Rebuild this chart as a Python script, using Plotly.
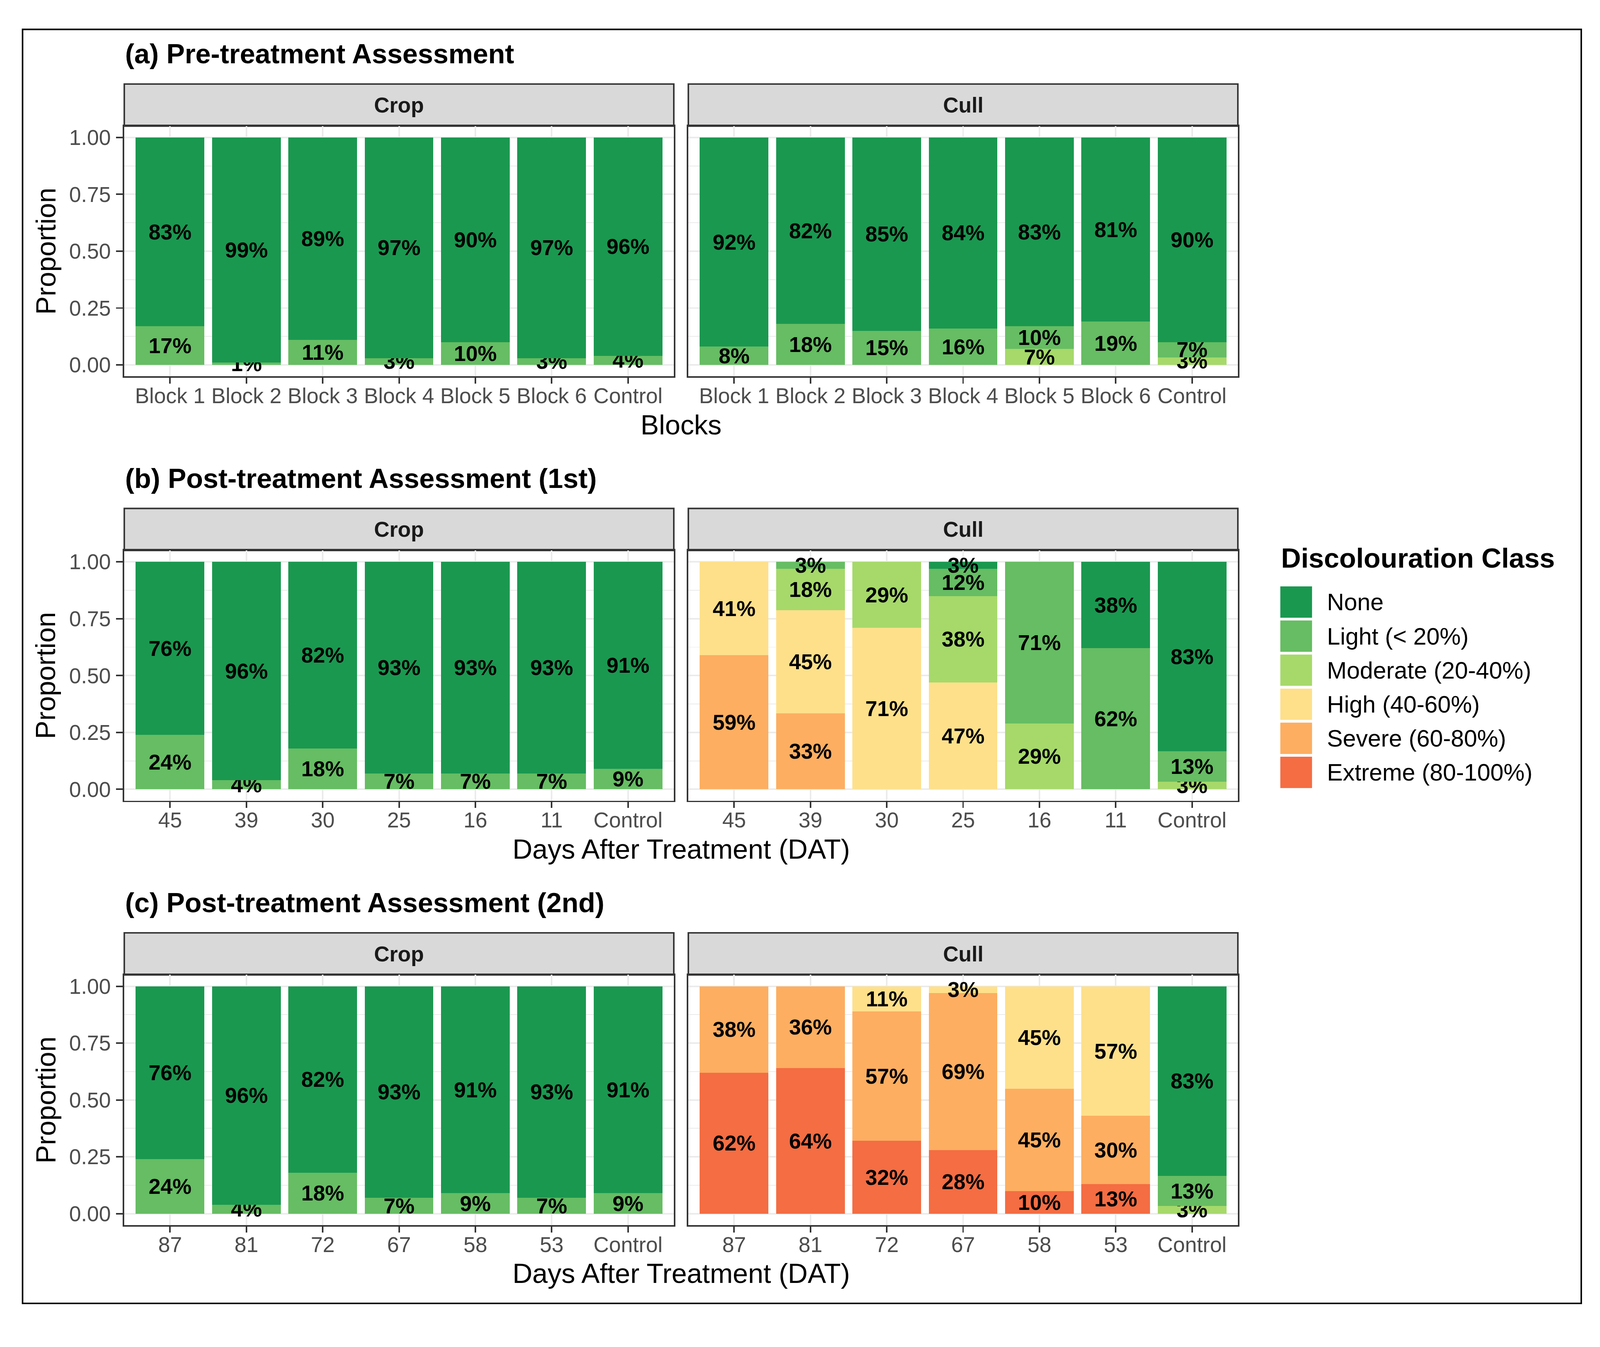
import plotly.graph_objects as go

W, H = 4184, 3448
FONT = "Liberation Sans, Arial, Helvetica, sans-serif"

# ---------------- data ----------------
classes = ["None", "Light (< 20%)", "Moderate (20-40%)", "High (40-60%)",
           "Severe (60-80%)", "Extreme (80-100%)"]
class_colors = ["#1A9850", "#66BD63", "#A6D96A", "#FEE08B", "#FDAE61", "#F46D43"]

blocks = ["Block 1", "Block 2", "Block 3", "Block 4", "Block 5", "Block 6", "Control"]
dat_first = ["45", "39", "30", "25", "16", "11", "Control"]
dat_second = ["87", "81", "72", "67", "58", "53", "Control"]
zeros = [0, 0, 0, 0, 0, 0, 0]

# (a) Pre-treatment, percentages
pre_crop_none = [83, 99, 89, 97, 90, 97, 96]
pre_crop_light = [17, 1, 11, 3, 10, 3, 4]
pre_cull_none = [92, 82, 85, 84, 83, 81, 90]
pre_cull_light = [8, 18, 15, 16, 10, 19, 6.67]
pre_cull_moderate = [0, 0, 0, 0, 7, 0, 3.33]

# (b) Post-treatment 1st
post1_crop_none = [76, 96, 82, 93, 93, 93, 91]
post1_crop_light = [24, 4, 18, 7, 7, 7, 9]
post1_cull_none = [0, 0, 0, 3, 0, 38, 83.33]
post1_cull_light = [0, 3.03, 0, 12, 71, 62, 13.33]
post1_cull_moderate = [0, 18.18, 29, 38, 29, 0, 3.33]
post1_cull_high = [41, 45.45, 71, 47, 0, 0, 0]
post1_cull_severe = [59, 33.33, 0, 0, 0, 0, 0]

# (c) Post-treatment 2nd
post2_crop_none = [76, 96, 82, 93, 91, 93, 91]
post2_crop_light = [24, 4, 18, 7, 9, 7, 9]
post2_cull_none = [0, 0, 0, 0, 0, 0, 83.33]
post2_cull_light = [0, 0, 0, 0, 0, 0, 13.33]
post2_cull_moderate = [0, 0, 0, 0, 0, 0, 3.33]
post2_cull_high = [0, 0, 11, 3, 45, 57, 0]
post2_cull_severe = [38, 36, 57, 69, 45, 30, 0]
post2_cull_extreme = [62, 64, 32, 28, 10, 13, 0]

panel_titles = ["(a) Pre-treatment Assessment", "(b) Post-treatment Assessment (1st)",
                "(c) Post-treatment Assessment (2nd)"]
x_titles = ["Blocks", "Days After Treatment (DAT)", "Days After Treatment (DAT)"]
facet_names = ["Crop", "Cull"]
y_ticks = [0, 0.25, 0.5, 0.75, 1.0]
y_minor = [0.125, 0.375, 0.625, 0.875]

panels = [
    dict(cats=blocks, facets=[
        [pre_crop_none, pre_crop_light, zeros, zeros, zeros, zeros],
        [pre_cull_none, pre_cull_light, pre_cull_moderate, zeros, zeros, zeros]]),
    dict(cats=dat_first, facets=[
        [post1_crop_none, post1_crop_light, zeros, zeros, zeros, zeros],
        [post1_cull_none, post1_cull_light, post1_cull_moderate, post1_cull_high,
         post1_cull_severe, zeros]]),
    dict(cats=dat_second, facets=[
        [post2_crop_none, post2_crop_light, zeros, zeros, zeros, zeros],
        [post2_cull_none, post2_cull_light, post2_cull_moderate, post2_cull_high,
         post2_cull_severe, post2_cull_extreme]]),
]

# ---------------- layout geometry (pixels) ----------------
def px(x):
    return x / W

def py(y):
    return 1 - y / H

PANEL_PITCH = 1111
FACET_X = [(325, 1762), (1800, 3237)]
PANEL_TOP0, PANEL_BOT0 = 328, 983
STRIP_TOP0 = 218
TITLE_Y0 = 139
XTITLE_Y0 = 1110

fig = go.Figure()
layout_axes = {}
shapes = []
annotations = []

for p, panel in enumerate(panels):
    off = p * PANEL_PITCH
    ptop, pbot = PANEL_TOP0 + off, PANEL_BOT0 + off
    for f, series in enumerate(panel["facets"]):
        idx = p * 2 + f + 1
        xa = "x" if idx == 1 else f"x{idx}"
        ya = "y" if idx == 1 else f"y{idx}"
        for ci in reversed(range(len(classes))):
            vals = series[ci]
            fig.add_trace(go.Bar(
                x=panel["cats"],
                y=[v / 100 if v > 0 else None for v in vals],
                text=[f"{v:.0f}%" if v > 0 else "" for v in vals],
                name=classes[ci],
                marker=dict(color=class_colors[ci], line=dict(width=0)),
                textposition="inside", insidetextanchor="middle", textangle=0,
                textfont=dict(family=FONT, size=56, color="black", weight="bold"),
                constraintext="none", cliponaxis=False,
                showlegend=False, hoverinfo="skip",
                xaxis=xa, yaxis=ya))
        x0, x1 = FACET_X[f]
        xkey = "xaxis" if idx == 1 else f"xaxis{idx}"
        ykey = "yaxis" if idx == 1 else f"yaxis{idx}"
        layout_axes[xkey] = dict(
            domain=[px(x0), px(x1)], anchor=ya, type="category",
            categoryorder="array", categoryarray=panel["cats"], range=[-0.6, 6.6],
            showgrid=True, gridcolor="#EBEBEB", gridwidth=4,
            showline=True, mirror=True, linecolor="#333333", linewidth=4,
            ticks="outside", ticklen=15, tickwidth=4, tickcolor="#333333",
            tickfont=dict(family=FONT, size=56, color="#4D4D4D"),
            ticklabelstandoff=-16, zeroline=False, fixedrange=True)
        layout_axes[ykey] = dict(
            domain=[py(pbot), py(ptop)], anchor=xa, range=[-0.05, 1.05],
            tickmode="array", tickvals=y_ticks, tickformat=".2f",
            showticklabels=(f == 0), ticks="outside" if f == 0 else "",
            ticklen=18, tickwidth=4, tickcolor="#333333",
            tickfont=dict(family=FONT, size=56, color="#4D4D4D"),
            ticklabelstandoff=2,
            showgrid=True, gridcolor="#EBEBEB", gridwidth=4,
            minor=dict(tickvals=y_minor, showgrid=True, gridcolor="#EBEBEB",
                       gridwidth=2, ticks=""),
            showline=True, mirror=True, linecolor="#333333", linewidth=4,
            zeroline=False, fixedrange=True)
        # strip
        st = STRIP_TOP0 + off
        shapes.append(dict(type="rect", xref="paper", yref="paper",
                           x0=px(x0), x1=px(x1), y0=py(ptop), y1=py(st),
                           fillcolor="#D9D9D9", line=dict(color="#333333", width=4),
                           layer="below"))
        annotations.append(dict(text=facet_names[f], xref="paper", yref="paper",
                                x=px((x0 + x1) / 2), y=py((st + ptop) / 2),
                                xanchor="center", yanchor="middle", showarrow=False,
                                font=dict(family=FONT, size=56, color="#1A1A1A",
                                          weight="bold")))
    # panel title
    annotations.append(dict(text=panel_titles[p], xref="paper", yref="paper",
                            x=px(325), y=py(TITLE_Y0 + off), xanchor="left",
                            yanchor="middle", showarrow=False,
                            font=dict(family=FONT, size=72, color="black", weight="bold")))
    # x title
    annotations.append(dict(text=x_titles[p], xref="paper", yref="paper",
                            x=px((FACET_X[0][0] + FACET_X[1][1]) / 2),
                            y=py(XTITLE_Y0 + off), xanchor="center", yanchor="middle",
                            showarrow=False,
                            font=dict(family=FONT, size=72, color="black")))
    # y title
    annotations.append(dict(text="Proportion", xref="paper", yref="paper",
                            x=px(120), y=py((ptop + pbot) / 2), xanchor="center",
                            yanchor="middle", textangle=-90, showarrow=False,
                            font=dict(family=FONT, size=72, color="black")))

# legend (drawn manually so keys have ggplot-like size)
LEG_X = 3348
annotations.append(dict(text="Discolouration Class", xref="paper", yref="paper",
                        x=px(LEG_X), y=py(1459), xanchor="left", yanchor="middle",
                        showarrow=False,
                        font=dict(family=FONT, size=72, color="black", weight="bold")))
for i, (name, col) in enumerate(zip(classes, class_colors)):
    cy = 1574 + i * 89.2
    shapes.append(dict(type="rect", xref="paper", yref="paper",
                       x0=px(LEG_X), x1=px(LEG_X + 83), y0=py(cy + 41), y1=py(cy - 41),
                       fillcolor=col, line=dict(width=0)))
    annotations.append(dict(text=name, xref="paper", yref="paper",
                            x=px(3468), y=py(cy), xanchor="left", yanchor="middle",
                            showarrow=False,
                            font=dict(family=FONT, size=62, color="black")))

# outer frame
shapes.append(dict(type="rect", xref="paper", yref="paper",
                   x0=px(59), x1=px(4135), y0=py(3410), y1=py(75),
                   fillcolor="rgba(0,0,0,0)", line=dict(color="black", width=4)))

fig.update_layout(
    width=W, height=H, margin=dict(l=0, r=0, t=0, b=0, pad=0),
    paper_bgcolor="white", plot_bgcolor="white",
    barmode="stack", bargap=0.1,
    uniformtext=dict(mode="show", minsize=56),
    showlegend=False, shapes=shapes, annotations=annotations,
    font=dict(family=FONT),
    **layout_axes)

fit_js = """
document.documentElement.style.margin='0';
document.body.style.margin='0';
document.body.style.overflow='hidden';
var gd = document.getElementById('{plot_id}');
function fitFig(){
  var s = Math.min(window.innerWidth / %d, window.innerHeight / %d);
  gd.style.transformOrigin = '0 0';
  gd.style.transform = 'scale(' + s + ')';
}
fitFig();
window.addEventListener('resize', fitFig);
""" % (W, H)

fig.write_html("out.html", include_plotlyjs=True,
               config={"displayModeBar": False, "staticPlot": True},
               post_script=fit_js)
